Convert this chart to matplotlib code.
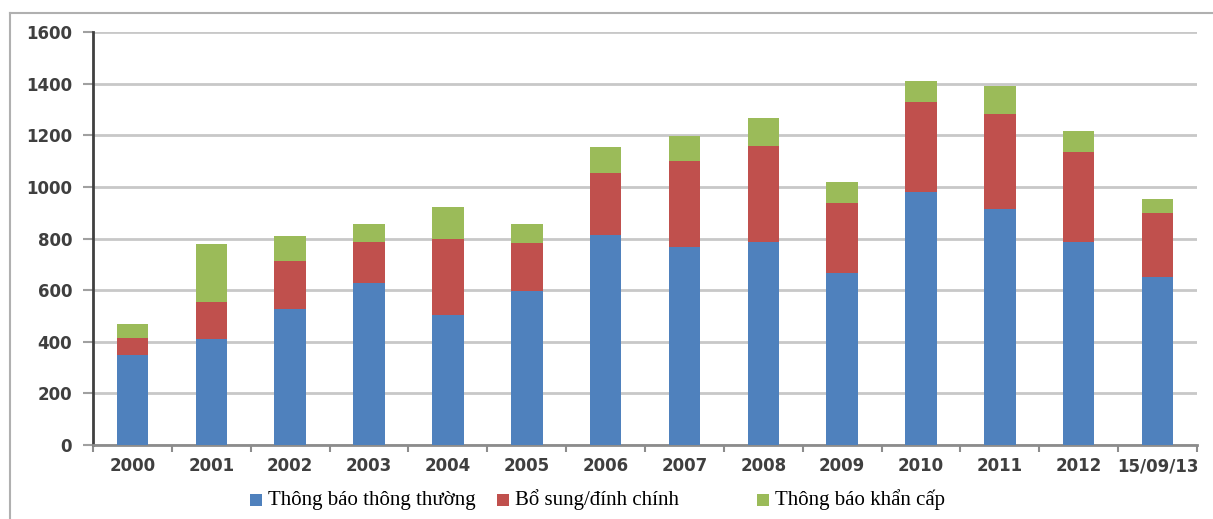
import matplotlib
matplotlib.use("Agg")
import matplotlib.pyplot as plt
from matplotlib.patches import Rectangle
from matplotlib.lines import Line2D
import numpy as np

# Số lượng thông báo theo năm
years = ["2000", "2001", "2002", "2003", "2004", "2005", "2006",
         "2007", "2008", "2009", "2010", "2011", "2012", "15/09/13"]
thong_thuong = [350, 410, 525, 627, 504, 598, 813, 767, 788, 668, 982, 915, 786, 649]
bo_sung = [65, 145, 188, 161, 294, 186, 240, 334, 371, 271, 345, 367, 351, 248]
khan_cap = [55, 222, 98, 69, 123, 73, 103, 97, 107, 78, 85, 107, 81, 55]

series_names = ["Thông báo thông thường", "Bổ sung/đính chính", "Thông báo khẩn cấp"]
colors = ["#4F81BD", "#C0504D", "#9BBB59"]
y_ticks = [0, 200, 400, 600, 800, 1000, 1200, 1400, 1600]

fig = plt.figure(figsize=(12.13, 5.19), dpi=100)
ax = fig.add_axes([0.0767, 0.1426, 0.9101, 0.7957])

x = np.arange(len(years))
bottom = np.zeros(len(years))
for vals, col in zip([thong_thuong, bo_sung, khan_cap], colors):
    ax.bar(x, vals, width=0.4, bottom=bottom, color=col, zorder=3)
    bottom += np.array(vals)

ax.set_xlim(-0.5, len(years) - 0.5)
ax.set_ylim(0, 1600)
ax.set_yticks(y_ticks)
ax.set_yticklabels([str(v) for v in y_ticks])
ax.grid(axis="y", color="#C8C8C8", linewidth=2, zorder=0)

label_color = "#3F3F3F"
ax.set_xticks(x)
ax.set_xticklabels(years)
ax.set_xticks(np.arange(len(years) + 1) - 0.5, minor=True)
ax.tick_params(axis="x", which="major", length=0, pad=9)
ax.tick_params(axis="x", which="minor", length=5, width=1.5, color="#8C8C8C")
ax.tick_params(axis="y", length=7, width=1.5, color="#A0A0A0", pad=8)
for lab in ax.get_xticklabels() + ax.get_yticklabels():
    lab.set_fontweight("bold")
    lab.set_fontsize(12)
    lab.set_color(label_color)

for side in ["top", "right"]:
    ax.spines[side].set_visible(False)
ax.spines["left"].set_color("#404040")
ax.spines["left"].set_linewidth(2)
ax.spines["bottom"].set_color("#8C8C8C")
ax.spines["bottom"].set_linewidth(2)

# khung viền bao quanh biểu đồ
fx, fy = 10 / 1213, 1 - 13 / 519
fig.add_artist(Line2D([fx, fx], [0, fy], color="#B0B0B0", linewidth=1.5))
fig.add_artist(Line2D([fx, 1], [fy, fy], color="#B0B0B0", linewidth=1.5))

# chú thích
legend_y = 1 - 500 / 519
sq_w, sq_h = 12 / 1213, 12 / 519
for name, col, px in zip(series_names, colors, [250, 497, 757]):
    fig.add_artist(Rectangle((px / 1213, legend_y - sq_h / 2), sq_w, sq_h,
                             facecolor=col, edgecolor="none"))
    fig.text((px + 18) / 1213, legend_y, name, family="Liberation Serif",
             fontsize=15, va="center", ha="left", color="black")

fig.savefig("out.png", dpi=100)
